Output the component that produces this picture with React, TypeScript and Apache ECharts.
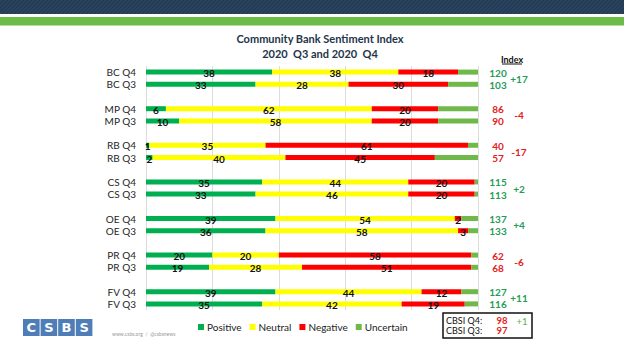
import React, { useEffect, useRef } from 'react';
import * as echarts from 'echarts';

const rowLabels = ['BC Q4', 'BC Q3', 'MP Q4', 'MP Q3', 'RB Q4', 'RB Q3', 'CS Q4', 'CS Q3', 'OE Q4', 'OE Q3', 'PR Q4', 'PR Q3', 'FV Q4', 'FV Q3'];
const positive = [38, 33, 6, 10, 1, 2, 35, 33, 39, 36, 20, 19, 39, 35];
const neutral = [38, 28, 62, 58, 35, 40, 44, 46, 54, 58, 20, 28, 44, 42];
const negative = [18, 30, 20, 20, 61, 45, 20, 20, 2, 3, 58, 51, 12, 19];
const uncertain = [6, 9, 12, 12, 3, 13, 1, 1, 5, 3, 2, 2, 5, 4];
const indexValues = [120, 103, 86, 90, 40, 57, 115, 113, 137, 133, 62, 68, 127, 116];
const indexChanges = [17, -4, -17, 2, 4, -6, 11];
const legendNames = ['Positive', 'Neutral', 'Negative', 'Uncertain'];
const cbsiLabels = ['CBSI Q4:', 'CBSI Q3:'];
const cbsiValues = [98, 97];
const cbsiChange = 1;
const titleLines = ['Community Bank Sentiment Index', '2020  Q3 and 2020  Q4'];

const COLORS = ['#00b050', '#ffff00', '#ff0000', '#70b84a'];
const GREEN_TXT = '#1f9d58';
const RED_TXT = '#e3211c';
const FONT = 'Lato, "Open Sans", sans-serif';

export default function App() {
  const ref = useRef<HTMLDivElement>(null);
  useEffect(() => {
    if (!ref.current) return;
    const chart = echarts.init(ref.current, null, { renderer: 'svg' });

    const cats: string[] = [];
    const rowCat: number[] = [];
    const nGroups = rowLabels.length / 2;
    for (let g = 0; g < nGroups; g++) {
      rowCat.push(cats.length); cats.push(rowLabels[2 * g]);
      rowCat.push(cats.length); cats.push(rowLabels[2 * g + 1]);
      if (g < nGroups - 1) cats.push(' '.repeat(g + 1));
    }
    const fill = (arr: number[]) => {
      const out: any[] = cats.map(() => '-');
      arr.forEach((v, i) => { out[rowCat[i]] = v; });
      return out;
    };
    const seriesArrays = [positive, neutral, negative, uncertain];

    const barSeries = seriesArrays.map((arr, si) => ({
      name: legendNames[si],
      type: 'bar',
      stack: 'total',
      barWidth: 5,
      data: fill(arr),
      itemStyle: { color: COLORS[si] },
      label: {
        show: si < 3,
        position: 'inside',
        offset: [0, 1],
        color: '#111',
        fontSize: 10,
        fontWeight: 'bold',
        fontFamily: FONT,
        formatter: (p: any) => String(p.value),
      },
    }));

    const idxData = [];
    for (let g = 0; g < nGroups; g++) {
      idxData.push([100, rowCat[2 * g], rowCat[2 * g + 1], indexValues[2 * g], indexValues[2 * g + 1], indexChanges[g]]);
    }

    const txt = (x: number, y: number, text: string, fill: string, size = 10, weight: any = 'bold', align = 'center') => ({
      type: 'text', x, y,
      style: { text, fill, fontSize: size, fontWeight: weight, fontFamily: FONT, align, verticalAlign: 'middle' },
    });

    const customSeries = {
      type: 'custom',
      data: idxData,
      encode: { x: 0, y: 1 },
      clip: false,
      silent: true,
      renderItem: (params: any, api: any) => {
        const p4 = api.coord([api.value(0), api.value(1)]);
        const p3 = api.coord([api.value(0), api.value(2)]);
        const v4 = api.value(3), v3 = api.value(4), ch = api.value(5);
        return {
          type: 'group',
          children: [
            txt(p4[0] + 20, p4[1] + 0.5, String(v4), v4 >= 100 ? GREEN_TXT : RED_TXT),
            txt(p3[0] + 20, p3[1] + 0.5, String(v3), v3 >= 100 ? GREEN_TXT : RED_TXT),
            txt(p4[0] + 41, (p4[1] + p3[1]) / 2 + 0.5, (ch > 0 ? '+' : '') + ch, ch >= 0 ? GREEN_TXT : RED_TXT),
          ],
        };
      },
    };

    const stripes: any[] = [];
    for (let x = -20; x < 640; x += 4) {
      stripes.push({ type: 'line', shape: { x1: x, y1: 14, x2: x + 14, y2: 0 }, style: { stroke: 'rgba(255,255,255,0.07)', lineWidth: 1.2 } });
    }

    const logoLetters = ['C', 'S', 'B', 'S'];
    const logo: any[] = [];
    logoLetters.forEach((l, i) => {
      const x = 23 + i * 17.6;
      logo.push({ type: 'rect', shape: { x, y: 319, width: 16.6, height: 17 }, style: { fill: '#4f7db8' } });
      logo.push({ type: 'text', x: x + 8.3, y: 327.8, style: { text: l, fill: '#fff', fontSize: 13, fontWeight: 'bold', fontFamily: '"DejaVu Sans", sans-serif', align: 'center', verticalAlign: 'middle' } });
    });

    const graphic: any[] = [
      { type: 'rect', shape: { x: 0, y: 0, width: 624, height: 14 }, style: { fill: '#213a55' } },
      { type: 'group', children: stripes },
      { type: 'rect', shape: { x: 0, y: 17, width: 624, height: 8.5 }, style: { fill: '#6cbd48' } },
      txt(320, 38, titleLines[0], '#24344a', 11, 'bold'),
      txt(320, 53, titleLines[1], '#24344a', 11, 'bold'),
      txt(512, 59, 'Index', '#111', 9, 'bold'),
      { type: 'line', shape: { x1: 502, y1: 64, x2: 522, y2: 64 }, style: { stroke: '#111', lineWidth: 1 } },
      ...logo,
      { type: 'text', x: 112, y: 334, style: { text: 'www.csbs.org  /  @csbsnews', fill: '#9a9a9a', fontSize: 5, fontFamily: FONT, verticalAlign: 'middle' } },
      { type: 'rect', shape: { x: 443, y: 313, width: 89, height: 25 }, style: { fill: '#fff', stroke: '#111', lineWidth: 1.5 } },
      txt(446, 320.5, cbsiLabels[0], '#111', 9, 'normal', 'left'),
      txt(446, 330.5, cbsiLabels[1], '#111', 9, 'normal', 'left'),
      txt(502, 320.5, String(cbsiValues[0]), cbsiValues[0] >= 100 ? GREEN_TXT : RED_TXT, 9.5, 'bold'),
      txt(502, 330.5, String(cbsiValues[1]), cbsiValues[1] >= 100 ? GREEN_TXT : RED_TXT, 9.5, 'bold'),
      txt(522, 321.5, (cbsiChange > 0 ? '+' : '') + cbsiChange, '#5cb04a', 9.5, 'normal'),
    ];

    chart.setOption({
      animation: false,
      backgroundColor: '#ffffff',
      grid: { left: 146, right: 146, top: 66, height: 244 },
      legend: {
        data: legendNames,
        left: 193,
        top: 317,
        icon: 'rect',
        itemWidth: 6,
        itemHeight: 6,
        itemGap: 8,
        textStyle: { fontSize: 10, color: '#222', fontFamily: FONT, padding: [0, 0, 0, -2] },
      },
      xAxis: {
        type: 'value', min: 0, max: 100, interval: 20,
        axisLabel: { show: false }, axisLine: { show: false }, axisTick: { show: false },
        splitLine: { show: true, lineStyle: { color: '#dcdcdc', width: 1 } },
      },
      yAxis: {
        type: 'category', inverse: true, data: cats,
        axisLine: { show: false }, axisTick: { show: false },
        axisLabel: { interval: 0, fontSize: 10, color: '#262626', fontFamily: FONT, margin: 10 },
      },
      series: [...barSeries, customSeries],
      graphic,
    });
    return () => chart.dispose();
  }, []);
  return <div ref={ref} style={{ position: 'fixed', left: 0, top: 0, width: 624, height: 351, background: '#fff' }} />;
}
